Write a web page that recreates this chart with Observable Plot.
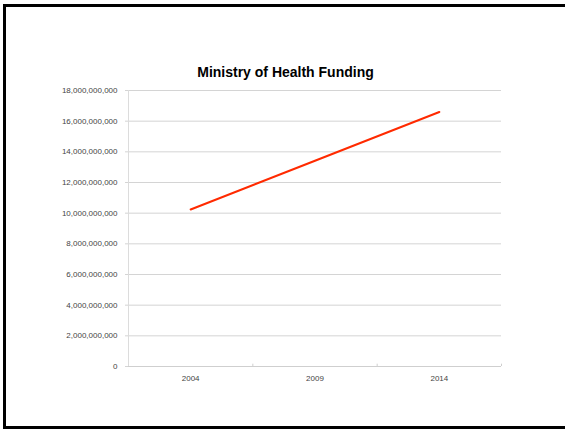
<!DOCTYPE html>
<html>
<head>
<meta charset="utf-8">
<script src="https://cdn.jsdelivr.net/npm/d3@7"></script>
<script src="https://cdn.jsdelivr.net/npm/@observablehq/plot@0.6"></script>
<style>
  html, body { margin: 0; padding: 0; background: #fff; }
  #frame {
    position: absolute; left: 3px; top: 4px;
    width: 562px; height: 419px;
    border-left: 3px solid #000; border-top: 3px solid #000; border-bottom: 3px solid #000;
    box-sizing: content-box;
    overflow: hidden;
  }
  #title {
    position: absolute; left: 0; top: 57px; width: 559px;
    text-align: center;
    font-family: "Liberation Sans", Arial, sans-serif;
    font-weight: bold; font-size: 14px; color: #000;
  }
  #chart { position: absolute; left: 0; top: 0; }
</style>
</head>
<body>
<div id="frame">
  <div id="chart"></div>
  <div id="title">Ministry of Health Funding</div>
</div>
<script>
const years = [2004, 2009, 2014];
const funding = [10240000000, 13420000000, 16600000000];
const yTicks = [0, 2e9, 4e9, 6e9, 8e9, 10e9, 12e9, 14e9, 16e9, 18e9];

const data = years.map((y, i) => ({year: y, value: funding[i]}));
const step = years[1] - years[0];
const xDomain = [years[0] - step / 2, years[years.length - 1] + step / 2];
const boundaries = years.map(y => y + step / 2);

const plot = Plot.plot({
  width: 559,
  height: 419,
  marginLeft: 122,
  marginRight: 64,
  marginTop: 83,
  marginBottom: 60,
  style: {fontFamily: "'Liberation Sans', Arial, sans-serif", fontSize: "8px", color: "#444", background: "transparent"},
  x: {domain: xDomain, label: null},
  y: {domain: [0, 18e9], label: null},
  marks: [
    Plot.ruleY(yTicks, {stroke: "#d4d4d4", strokeWidth: 1}),
    Plot.ruleX([xDomain[0]], {stroke: "#dcdcdc", strokeWidth: 1}),
    Plot.axisY({ticks: yTicks, tickFormat: d3.format(","), tickSize: 3, tickPadding: 8, stroke: "#d4d4d4", color: "#444", fontSize: 8, label: null}),
    Plot.axisX({ticks: years, tickFormat: d => String(d), tickSize: 0, tickPadding: 9, color: "#444", fontSize: 8, label: null}),
    Plot.ruleX(boundaries, {y1: 0, y2: 150e6, stroke: "#cfcfcf"}),
    Plot.ruleY([0], {stroke: "#cfcfcf"}),
    Plot.line(data, {x: "year", y: "value", stroke: "#ff2a00", strokeWidth: 2})
  ]
});
document.getElementById("chart").appendChild(plot);
</script>
</body>
</html>
